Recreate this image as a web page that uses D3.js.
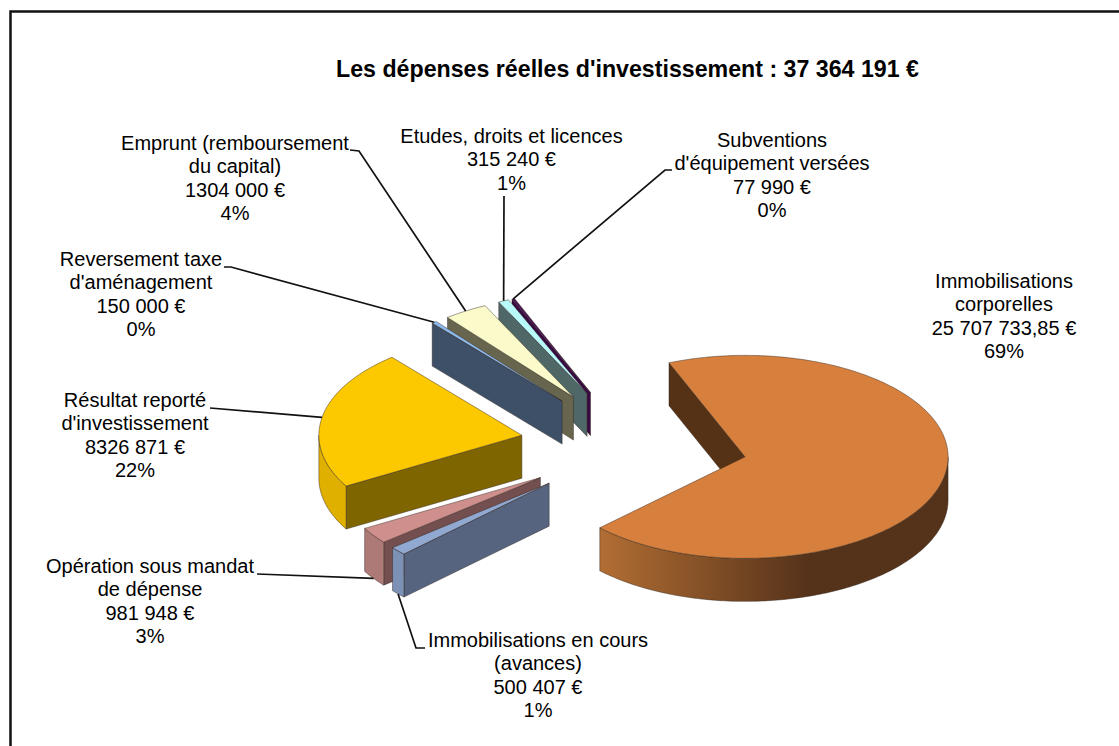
<!DOCTYPE html>
<html><head><meta charset="utf-8">
<script src="https://cdn.jsdelivr.net/npm/d3@7"></script>
<style>html,body{margin:0;padding:0;background:#fff}svg{display:block}text{font-family:"Liberation Sans",Arial,sans-serif;fill:#000}</style>
</head><body><div id="c"></div>
<script>
const titleText = "Les dépenses réelles d'investissement : 37 364 191 €";
const categories = ["Immobilisations corporelles","Immobilisations en cours (avances)","Opération sous mandat de dépense","Résultat reporté d'investissement","Reversement taxe d'aménagement","Emprunt (remboursement du capital)","Etudes, droits et licences","Subventions d'équipement versées"];
const values = [25707733.85,500407,981948,8326871,150000,1304000,315240,77990];
const nameLines = [["Immobilisations","corporelles"],["Immobilisations en cours","(avances)"],["Opération sous mandat","de dépense"],["Résultat reporté","d'investissement"],["Reversement taxe","d'aménagement"],["Emprunt (remboursement","du capital)"],["Etudes, droits et licences"],["Subventions","d'équipement versées"]];
const valueLabels = ["25 707 733,85 €","500 407 €","981 948 €","8326 871 €","150 000 €","1304 000 €","315 240 €","77 990 €"];
const percentLabels = ["69%","1%","3%","22%","0%","4%","1%","0%"];
const topColors  = ["#D77F3C","#91A8D0","#CE8F8D","#FCC800","#8DB9EE","#FBFACB","#B8FAFA","#4A1454"];
const wallColors = ["#553115","#566480","#734F50","#7F6500","#3D5068","#67654E","#4F6767","#3A0A44"];
const rimColors  = ["#B26E33","#7D91B6","#AD7A78","#E0B000","#3D5068","#67654E","#4F6767","#3A0A44"];

// layout of the chart (not data)
const W=1119,H=746, cx=633.8, cy=445.2, rx=203, ry=101.5, depth=43, explode=0.56, startDeg=-22;
const labelPos = [[1004,288],[538,647],[150,573],[135,407],[141,266],[235,150],[511.5,143],[772,147]];
const leaderFrom = [null,[[425,648],[416,648]],[[257,574]],[[210,408]],[[224,267],[231,267]],[[350,150],[359,151]],[[504,196]],[[672,170],[665,170]]];
const leaderDrop = [0,1,1,0,0,0,0,0];

const x=d3.scaleLinear().domain([-1,1]).range([cx-rx,cx+rx]);
const y=d3.scaleLinear().domain([-1,1]).range([cy-ry,cy+ry]);
const line=d3.line().x(d=>d[0]).y(d=>d[1]);
const svg=d3.select("#c").append("svg").attr("width",W).attr("height",H);
const defs=svg.append("defs");
const g0=defs.append("linearGradient").attr("id","rim0");
[[0,"#B26E33"],[.6,"#55321A"],[1,"#55321A"]].forEach(s=>g0.append("stop").attr("offset",s[0]).attr("stop-color",s[1]));

svg.append("path").attr("d",`M10.5,746V11.5H1119`).attr("fill","none").attr("stroke","#111").attr("stroke-width",2.5);

const start=startDeg*Math.PI/180;
const arcs=d3.pie().sort(null).startAngle(start).endAngle(start+2*Math.PI)(values);
const slices=arcs.map((a,i)=>{
  const mid=(a.startAngle+a.endAngle)/2;
  return {i,a,mid,ox:explode*Math.sin(mid),oy:-explode*Math.cos(mid)};
});
const pt=(s,t,r=1,dz=0)=>[x(s.ox+r*Math.sin(t)),y(s.oy-r*Math.cos(t))+dz];
function rimPts(s,t0,t1,dz){const n=Math.max(2,Math.ceil((t1-t0)*60));return d3.range(n+1).map(k=>pt(s,t0+(t1-t0)*k/n,1,dz));}
const edge="rgba(50,40,30,0.65)";
const order=slices.slice().sort((p,q)=>p.oy-q.oy);
const G=svg.append("g");
order.forEach(s=>{
  const g=G.append("g");
  const t0=s.a.startAngle,t1=s.a.endAngle,apex=pt(s,0,0);
  const wall=t=>{const o=pt(s,t);const A=[apex,o,[o[0],o[1]+depth],[apex[0],apex[1]+depth]];
    g.append("path").attr("d",line(A)+"Z").attr("fill",wallColors[s.i]).attr("stroke",edge).attr("stroke-width",.7);};
  if(Math.sin(t0)<0) wall(t0);
  if(Math.sin(t1)>0) wall(t1);
  // outer rim: the part of the arc in the lower half of the ellipse
  let a0=Math.max(t0,Math.PI/2),a1=Math.min(t1,3*Math.PI/2);
  if(a1>a0){
    const up=rimPts(s,a0,a1,0),dn=rimPts(s,a0,a1,depth).reverse();
    g.append("path").attr("d",line(up.concat(dn))+"Z")
      .attr("fill",s.i===0?"url(#rim0)":rimColors[s.i]).attr("stroke",edge).attr("stroke-width",.7);
  }
  g.append("path").attr("d",line([apex].concat(rimPts(s,t0,t1,0)))+"Z")
    .attr("fill",topColors[s.i]).attr("stroke",edge).attr("stroke-width",.7);
});
// leaders
slices.forEach(s=>{
  if(!leaderFrom[s.i])return;
  const end=pt(s,s.mid,1,leaderDrop[s.i]*depth);
  svg.append("path").attr("d",line(leaderFrom[s.i].concat([end]))).attr("fill","none").attr("stroke","#111").attr("stroke-width",1.7);
});
// labels
const lh=23.4, fs=20;
categories.forEach((c,i)=>{
  const t=svg.append("text").attr("text-anchor","middle").attr("font-size",fs).attr("aria-label",c);
  nameLines[i].concat([valueLabels[i],percentLabels[i]]).forEach((l,k)=>{
    t.append("tspan").attr("x",labelPos[i][0]).attr("y",labelPos[i][1]+k*lh).text(l);
  });
});
svg.append("text").attr("x",627.5).attr("y",77).attr("text-anchor","middle").attr("font-size",23.2).attr("font-weight","bold").text(titleText);
</script></body></html>
